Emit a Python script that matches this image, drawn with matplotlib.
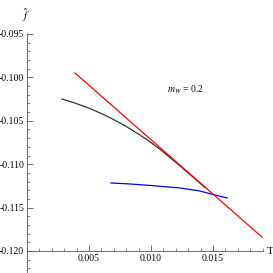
import matplotlib
matplotlib.use("Agg")
import matplotlib.pyplot as plt
from matplotlib.ticker import MultipleLocator, FixedLocator

# data
red_T = [0.00387, 0.01895]
red_f = [-0.09950, -0.11840]

black_T = [0.00282, 0.00387, 0.00508, 0.00590, 0.00669, 0.00790, 0.00911, 0.00990,
           0.01073, 0.01194, 0.01315, 0.01436]
black_f = [-0.10249, -0.10296, -0.10360, -0.10410, -0.10464, -0.10557, -0.10664, -0.10741,
           -0.10829, -0.10972, -0.11119, -0.11271]

blue_T = [0.00677, 0.00831, 0.00992, 0.01234, 0.01395, 0.01500, 0.01613]
blue_f = [-0.11216, -0.11228, -0.11245, -0.11274, -0.11309, -0.11349, -0.11389]

xticks = [0.005, 0.010, 0.015]
xticklabels = ["0.005", "0.010", "0.015"]
yticks = [-0.120, -0.115, -0.110, -0.105, -0.100, -0.095]
yticklabels = ["-0.120", "-0.115", "-0.110", "-0.105", "-0.100", "-0.095"]

plt.rcParams['font.family'] = ['Liberation Serif', 'DejaVu Serif']
plt.rcParams['mathtext.fontset'] = 'stix'

fig = plt.figure(figsize=(2.73, 2.73), dpi=100)
ax = fig.add_axes([0.099, 0.0037, 0.863, 0.875])
ax.set_xlim(0, 0.019)
ax.set_ylim(-0.12242, -0.0949)

ax.plot(black_T, black_f, color='#333333', lw=0.9)
ax.plot(blue_T, blue_f, color='#0000ff', lw=0.9)
ax.plot(red_T, red_f, color='#ff0000', lw=0.9)

for s in ['top', 'right']:
    ax.spines[s].set_visible(False)
ax.spines['left'].set_position(('data', 0))
ax.spines['bottom'].set_position(('data', -0.120))
for s in ['left', 'bottom']:
    ax.spines[s].set_linewidth(0.6)
    ax.spines[s].set_color('#555555')

ax.xaxis.set_major_locator(FixedLocator(xticks))
ax.set_xticklabels(xticklabels)
ax.xaxis.set_minor_locator(MultipleLocator(0.001))
ax.yaxis.set_major_locator(FixedLocator(yticks))
ax.set_yticklabels(yticklabels)
ax.yaxis.set_minor_locator(MultipleLocator(0.001))
ax.tick_params(which='major', direction='in', length=4, width=0.6, color='#555555',
               labelsize=7, pad=2)
ax.tick_params(which='minor', direction='in', length=2, width=0.5, color='#555555')

ax.text(0.01282, -0.10145, r'$m_W$ = 0.2', fontsize=7, ha='center', va='center')
fig.text(270/273, 1 - 252/273, 'T', fontsize=8, ha='center', va='center')
fig.text(26/273, 1 - 15/273, r'$\hat{f}$', fontsize=8, ha='center', va='center')

fig.savefig('out.png', dpi=100)
